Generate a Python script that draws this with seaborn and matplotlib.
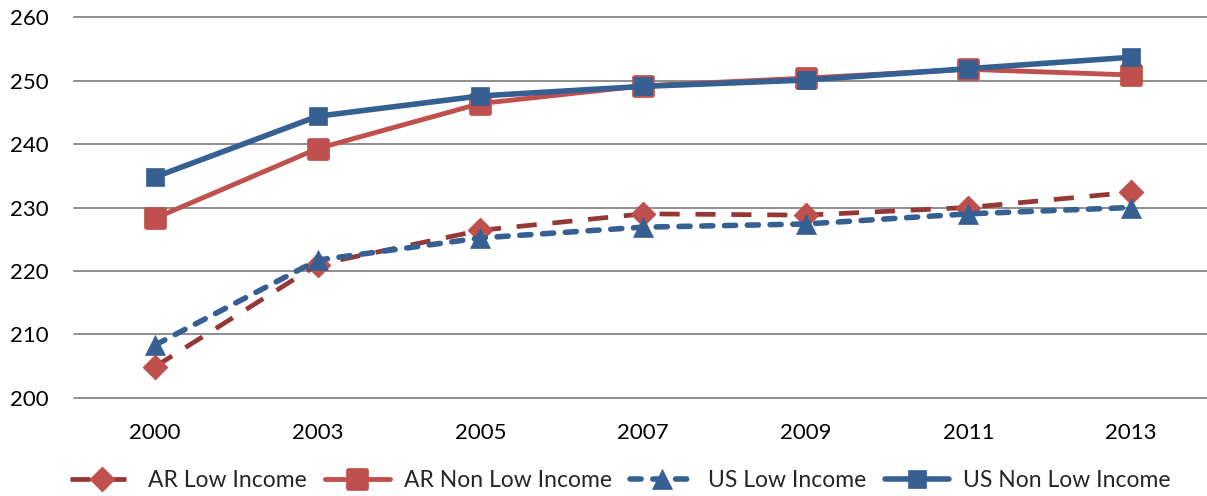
import numpy as np
import matplotlib
matplotlib.use("Agg")
import matplotlib.pyplot as plt
from matplotlib.markers import MarkerStyle
import seaborn as sns

# Scores by year for Arkansas (AR) and the US, split by income group
years = ["2000", "2003", "2005", "2007", "2009", "2011", "2013"]
ar_low = [204.9, 221.0, 226.4, 229.0, 228.8, 230.0, 232.4]
ar_non_low = [228.3, 239.3, 246.4, 249.2, 250.4, 251.8, 250.9]
us_low = [208.3, 221.7, 225.2, 226.9, 227.4, 229.0, 230.0]
us_non_low = [234.8, 244.4, 247.6, 249.1, 250.1, 251.9, 253.7]

series_names = ["AR Low Income", "AR Non Low Income", "US Low Income", "US Non Low Income"]

RED = "#C0504D"
DARK_RED = "#953735"
BLUE = "#376092"
GRID = "#8E8E8E"

sns.set_theme(style="white")
plt.rcParams["font.family"] = ["Lato", "DejaVu Sans"]

fig = plt.figure(figsize=(12.07, 4.96), dpi=100)
ax = fig.add_axes([74 / 1207, 0.1982, (1207 - 74) / 1207, 0.7669])

pos = np.arange(len(years))

sns.lineplot(x=pos, y=ar_low, ax=ax, color=DARK_RED, lw=3.4,
             linestyle=(0, (4.26, 3.34)), dash_capstyle="butt",
             marker=MarkerStyle("D", joinstyle="round"), markersize=12,
             markerfacecolor=RED, markeredgecolor=RED, markeredgewidth=1.0,
             label=series_names[0], zorder=3)
sns.lineplot(x=pos, y=ar_non_low, ax=ax, color=RED, lw=3.5,
             marker=MarkerStyle("s", joinstyle="round"), markersize=13,
             markerfacecolor=RED, markeredgecolor=RED, markeredgewidth=3.4,
             label=series_names[1], zorder=4)
sns.lineplot(x=pos, y=us_low, ax=ax, color=BLUE, lw=4.0,
             linestyle=(0, (2.0, 2.1)), dash_capstyle="round",
             marker="^", markersize=14,
             markerfacecolor=BLUE, markeredgecolor=BLUE, markeredgewidth=0.5,
             label=series_names[2], zorder=5)
sns.lineplot(x=pos, y=us_non_low, ax=ax, color=BLUE, lw=4.0,
             marker="s", markersize=13,
             markerfacecolor=BLUE, markeredgecolor=BLUE, markeredgewidth=0.5,
             label=series_names[3], zorder=6)

ax.set_xlim(-0.498, 6.467)
ax.set_ylim(200, 260)
ax.set_yticks(np.arange(200, 261, 10))
ax.set_xticks(pos)
ax.set_xticklabels(years)
ax.set_xlabel("")
ax.set_ylabel("")

ax.grid(axis="y", color=GRID, lw=1.4)
ax.grid(axis="x", visible=False)
for gl in ax.get_ygridlines():
    gl.set_clip_on(False)
for sp in ax.spines.values():
    sp.set_visible(False)

ax.tick_params(axis="both", length=0, labelsize=16, colors="black")
ax.tick_params(axis="x", pad=18)
ax.tick_params(axis="y", pad=18)

handles, labels = ax.get_legend_handles_labels()
if ax.get_legend() is not None:
    ax.get_legend().remove()
fig.legend(handles, labels, loc="center", bbox_to_anchor=(0.514, 0.032),
           ncol=4, frameon=False, fontsize=16.5, handlelength=2.8,
           handletextpad=0.62, columnspacing=0.8, numpoints=1,
           borderpad=0, borderaxespad=0)

fig.savefig("out.png", dpi=100)
